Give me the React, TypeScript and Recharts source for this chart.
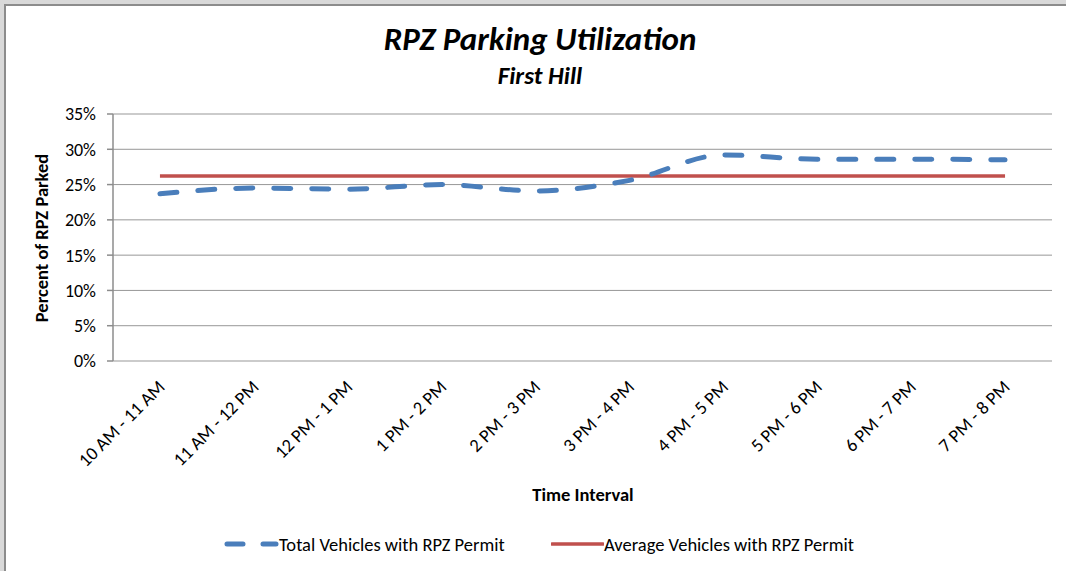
import { LineChart, Line, XAxis, YAxis, CartesianGrid } from "recharts"

const INTERVALS = [
  "10 AM - 11 AM",
  "11 AM - 12 PM",
  "12 PM - 1 PM",
  "1 PM - 2 PM",
  "2 PM - 3 PM",
  "3 PM - 4 PM",
  "4 PM - 5 PM",
  "5 PM - 6 PM",
  "6 PM - 7 PM",
  "7 PM - 8 PM",
]
const TOTAL_RPZ = [23.7, 24.5, 24.35, 25.0, 24.1, 25.6, 29.2, 28.6, 28.6, 28.5]
const AVERAGE_RPZ = [26.2, 26.2, 26.2, 26.2, 26.2, 26.2, 26.2, 26.2, 26.2, 26.2]
const Y_TICKS = [0, 5, 10, 15, 20, 25, 30, 35]
const BOUNDARY_TICKS = [0, 1, 2, 3, 4, 5, 6, 7, 8, 9, 10]
const LABEL_TICKS = INTERVALS.map((_, i) => i + 0.5)

const data = INTERVALS.map((label, i) => ({
  slot: i + 0.5,
  label,
  total: TOTAL_RPZ[i],
  average: AVERAGE_RPZ[i],
}))

const FONT = "Carlito, Calibri, Lato, sans-serif"
const BLUE = "#4a7ebb"
const RED = "#c0504d"
const GRID = "#8c8c8c"

function IntervalTick({ x, y, payload }: any) {
  const label = INTERVALS[Math.floor(payload.value)]
  return (
    <g transform={`translate(${x + 6},${y + 27})`}>
      <text textAnchor="end" transform="rotate(-45)" fontSize={18.5} fill="#000" fontFamily={FONT}>
        {label}
      </text>
    </g>
  )
}

export default function App() {
  return (
    <div
      style={{
        position: "absolute",
        left: 0,
        top: 0,
        width: 1066,
        height: 571,
        background: "#d9d9d9",
        overflow: "hidden",
        fontFamily: FONT,
      }}
    >
      <div
        style={{
          position: "absolute",
          left: 4,
          top: 4,
          right: 0,
          bottom: 0,
          background: "#fff",
          borderTop: "2px solid #8c8c8c",
          borderLeft: "2px solid #8c8c8c",
        }}
      />
      <div
        style={{
          position: "absolute",
          left: 0,
          width: 1080,
          top: 19,
          textAlign: "center",
          fontSize: 33,
          fontWeight: 700,
          fontStyle: "italic",
        }}
      >
        RPZ Parking Utilization
      </div>
      <div
        style={{
          position: "absolute",
          left: 0,
          width: 1080,
          top: 60,
          textAlign: "center",
          fontSize: 25,
          fontWeight: 700,
          fontStyle: "italic",
        }}
      >
        First Hill
      </div>
      <div
        style={{
          position: "absolute",
          left: 41,
          top: 238,
          transform: "translate(-50%, -50%) rotate(-90deg)",
          whiteSpace: "nowrap",
          fontSize: 18.5,
          fontWeight: 700,
        }}
      >
        Percent of RPZ Parked
      </div>
      <div
        style={{
          position: "absolute",
          left: 583,
          top: 494,
          transform: "translate(-50%, -50%)",
          whiteSpace: "nowrap",
          fontSize: 18.5,
          fontWeight: 700,
        }}
      >
        Time Interval
      </div>
      <div style={{ position: "absolute", left: 0, top: 0 }}>
        <LineChart
          width={1066}
          height={571}
          data={data}
          margin={{ top: 114, right: 14, bottom: 110, left: 0 }}
        >
          <CartesianGrid horizontal vertical={false} stroke={GRID} strokeOpacity={0.9} />
          <XAxis
            xAxisId="bounds"
            dataKey="slot"
            type="number"
            domain={[0, 10]}
            ticks={BOUNDARY_TICKS}
            tick={false}
            height={0}
            tickSize={6}
            stroke={GRID}
            strokeWidth={1.5}
          />
          <XAxis
            xAxisId="labels"
            dataKey="slot"
            type="number"
            domain={[0, 10]}
            ticks={LABEL_TICKS}
            tick={<IntervalTick />}
            tickLine={false}
            axisLine={false}
            tickSize={0}
            tickMargin={0}
            height={100}
            interval={0}
          />
          <YAxis
            domain={[0, 35]}
            ticks={Y_TICKS}
            tickFormatter={(v) => `${v}%`}
            width={113}
            tickSize={6}
            tickMargin={11}
            stroke={GRID}
            strokeWidth={1.5}
            tick={{ fill: "#000", fontSize: 18, fontFamily: FONT }}
          />
          <Line
            xAxisId="bounds"
            dataKey="average"
            type="linear"
            stroke={RED}
            strokeWidth={3.5}
            dot={false}
            isAnimationActive={false}
          />
          <Line
            xAxisId="bounds"
            dataKey="total"
            type="monotone"
            stroke={BLUE}
            strokeWidth={5}
            strokeDasharray="17 21"
            strokeLinecap="round"
            dot={false}
            isAnimationActive={false}
          />
        </LineChart>
      </div>
      <div
        style={{
          position: "absolute",
          left: 222,
          top: 532,
          display: "flex",
          alignItems: "center",
          fontSize: 18.5,
          whiteSpace: "nowrap",
        }}
      >
        <svg width={57} height={24}>
          <line x1={5} y1={12} x2={54} y2={12} stroke={BLUE} strokeWidth={5} strokeDasharray="16 20" strokeLinecap="round" />
        </svg>
        <span>Total Vehicles with RPZ Permit</span>
      </div>
      <div
        style={{
          position: "absolute",
          left: 551,
          top: 532,
          display: "flex",
          alignItems: "center",
          fontSize: 18.5,
          whiteSpace: "nowrap",
        }}
      >
        <svg width={53} height={24}>
          <line x1={1} y1={12} x2={52} y2={12} stroke={RED} strokeWidth={3.5} strokeLinecap="round" />
        </svg>
        <span>Average Vehicles with RPZ Permit</span>
      </div>
    </div>
  )
}
